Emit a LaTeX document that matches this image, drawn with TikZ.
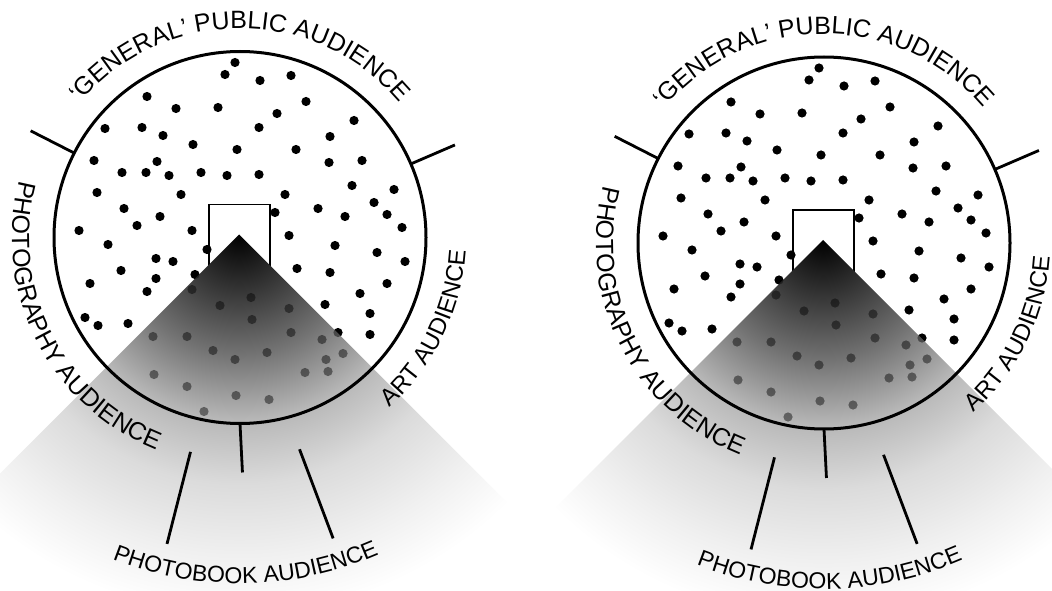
\documentclass[tikz,border=0pt]{standalone}
\usepackage{fontspec}
\usetikzlibrary{decorations.text}
\newfontfamily\lblfont{Liberation Sans}
\pgfdeclareradialshading{wedgeshade}{\pgfpoint{0bp}{0bp}}{%
  color(0bp)=(black); color(3bp)=(black!82); color(7.5bp)=(black!55);
  color(11.6bp)=(black!28); color(15.6bp)=(black!14); color(20bp)=(black!6);
  color(23.75bp)=(white); color(50bp)=(white)}
\tikzset{
  rim/.style    ={draw=black, line width=3pt},
  rimtick/.style={draw=black, line width=2.8pt, line cap=butt},
  door/.style   ={draw=black, fill=white, line width=1.6pt},
  pdot/.style   ={fill=black},
}
\newcommand{\lbl}{\lblfont\fontsize{25}{25}\selectfont}
\newcommand{\lblside}{\lblfont\fontsize{24}{24}\selectfont}
\newcommand{\lblsmall}{\lblfont\fontsize{23}{23}\selectfont}

% the audience, one dot each
\newcommand{\wheeldots}{%
  \foreach \dx/\dy in {-5/175,-15/163,20/157,51/162,-93/141,-64/129,-22/130,
      66/136,37/124,114/117,-135/109,-98/110,-77/102,19/110,90/101,-47/93,
      -3/88,56/88,-146/77,-83/76,89/75,122/77,-118/65,-94/65,-71/62,-39/65,
      -13/62,19/63,-143/45,-59/43,45/43,112/52,154/48,134/35,147/23,78/29,
      105/21,162/10,-116/29,-80/21,-103/12,-48/7,-161/7,49/2,35/25,-132/-7,
      -33/-12,-84/-21,-67/-24,95/-8,137/-15,165/-24,-119/-33,-84/-41,-45/-37,
      57/-31,90/-35,147/-46,-150/-46,-93/-54,120/-56,85/-67,130/-76,130/-97,
      98/-95,-155/-80,-142/-88,-112/-86,
      -48/-52,-20/-68,-87/-99,-53/-99,-27/-113,-5/-122,-86/-137,-53/-149,
      -4/-158,-36/-174,11/-60,49/-71,12/-82,51/-95,82/-102,27/-115,103/-116,
      86/-122,88/-134,65/-135,29/-162}
    \fill[pdot] (\dx,\dy) circle (4.6);}

\newcommand{\audiencewheel}{%
  \draw[door] (-31,-30) rectangle (30,33);
  \wheeldots
  % the photobook wedge
  \begin{scope}
    \clip (-1,3) -- ++(-135:560) -- ++(792,0) -- cycle;
    \shade[shading=wedgeshade] (-1,3) circle (400);
    \begin{scope}[fill opacity=0.45]
      \wheeldots
    \end{scope}
  \end{scope}
  \draw[rim] (0,0) circle (186);
  \draw[rimtick] (153:186) -- (153:235);
  \draw[rimtick] (23.3:186) -- (23.3:234);
  \draw[rimtick] (270:186) -- (270.6:235);
  \draw[rimtick] (257:220) -- (256.6:315);
  \draw[rimtick] (285.7:220) -- (287.2:315);
  % labels round the rim
  \path[decorate, decoration={text along path, text align=center,
      text={|\lbl|‘GENERAL’ PUBLIC AUDIENCE}}]
    (170:209) arc[start angle=170, end angle=10, radius=209];
  \path[decorate, decoration={text along path, text align=center,
      text={|\lbl|PHOTOGRAPHY AUDIENCE}}]
    (147:228) arc[start angle=147, end angle=267, radius=228];
  \path[decorate, decoration={text along path, text align=center,
      text={|\lblside|ART AUDIENCE}}]
    (-71:226) arc[start angle=-71, end angle=19, radius=226];
  \path[decorate, decoration={text along path, text align=center,
      text={|\lblsmall|PHOTOBOOK AUDIENCE}}]
    (231:346) arc[start angle=231, end angle=311, radius=346];
}

\begin{document}
\begin{tikzpicture}[x=1pt,y=1pt]
  \useasboundingbox (0,0) rectangle (1052,590);
  \fill[white] (0,0) rectangle (1052,590);

  \begin{scope}[shift={(240,352.5)}]
    \audiencewheel
  \end{scope}
  \begin{scope}[shift={(824,347)}]
    \audiencewheel
  \end{scope}
\end{tikzpicture}
\end{document}
